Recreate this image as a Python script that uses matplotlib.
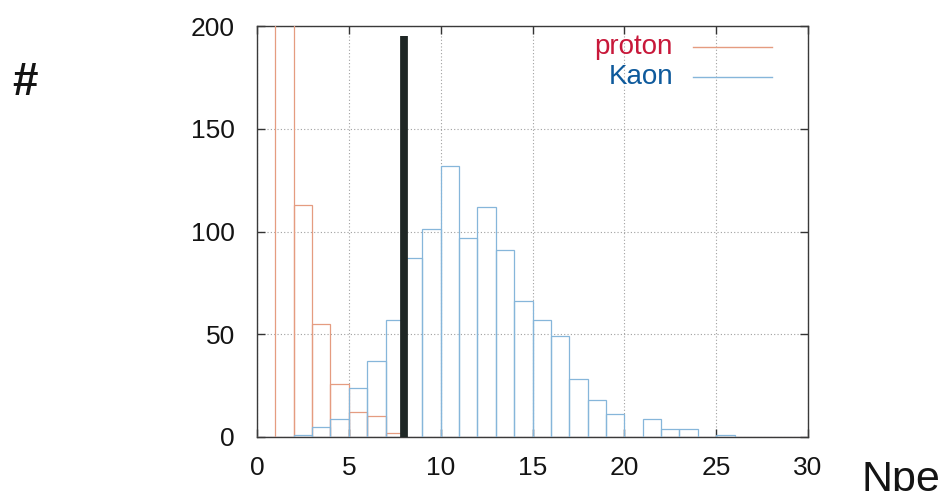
import matplotlib
matplotlib.use("Agg")
import matplotlib.pyplot as plt
from matplotlib.lines import Line2D

# Histogram contents, one entry per unit-wide Npe bin starting at 0
bin_edges = list(range(0, 31))
proton_counts = [0, 420, 113, 55, 26, 12, 10, 2, 0, 0,
                 0, 0, 0, 0, 0, 0, 0, 0, 0, 0,
                 0, 0, 0, 0, 0, 0, 0, 0, 0, 0]
kaon_counts = [0, 0, 1, 5, 9, 24, 37, 57, 87, 101,
               132, 97, 112, 91, 66, 57, 49, 28, 18, 11,
               0, 9, 4, 4, 0, 1, 0, 0, 0, 0]

# Npe cut position and drawn height
cut_npe = 8
cut_height = 195

x_ticks = [0, 5, 10, 15, 20, 25, 30]
y_ticks = [0, 50, 100, 150, 200]
series_labels = ["proton", "Kaon"]

plt.rcParams["font.family"] = ["Liberation Sans", "DejaVu Sans"]

fig = plt.figure(figsize=(9.46, 4.91), dpi=100)
ax = fig.add_axes([257 / 946, 1 - 437 / 491, 551 / 946, 411 / 491])

proton_color = "#e59c80"
kaon_color = "#86b6da"
text_color = "#141414"

left = bin_edges[:-1]
ax.bar(left, proton_counts, width=1, align="edge", fill=False,
       edgecolor=proton_color, linewidth=0.9, zorder=3)
ax.bar(left, kaon_counts, width=1, align="edge", fill=False,
       edgecolor=kaon_color, linewidth=0.9, zorder=3)

ax.plot([cut_npe, cut_npe], [0, cut_height], color="#1f2725",
        linewidth=5.6, solid_capstyle="butt", zorder=4)

ax.set_xlim(0, 30)
ax.set_ylim(0, 200)
ax.set_xticks(x_ticks)
ax.set_yticks(y_ticks)
ax.tick_params(axis="both", direction="in", length=6, width=1,
               color="#333333", labelsize=19, labelcolor=text_color,
               top=True, right=True)
ax.tick_params(axis="x", pad=14)
ax.tick_params(axis="y", pad=16)

ax.grid(True, linestyle=(0, (1, 2)), color="#a0a0a0", linewidth=0.8)
for s in ax.spines.values():
    s.set_color("#3a3a3a")
    s.set_linewidth(1.0)

# Key: right-aligned label followed by a sample line
legend_rows = [(series_labels[0], "#c8183a", proton_color, 0.949),
               (series_labels[1], "#0e5a9c", kaon_color, 0.876)]
for label, tcol, lcol, yf in legend_rows:
    ax.text(0.755, yf, label, transform=ax.transAxes, ha="right",
            va="center", fontsize=20, color=tcol, zorder=5)
    ax.add_line(Line2D([0.791, 0.935], [yf, yf], transform=ax.transAxes,
                       color=lcol, linewidth=1.0, zorder=5))

fig.text(25 / 946, 1 - 83 / 491, "#", fontsize=33, fontweight="bold",
         color=text_color, ha="center", va="center")
fig.text(861 / 946, 1 - 491 / 491, "Npe", fontsize=31, color=text_color,
         ha="left", va="baseline")

fig.savefig("out.png", dpi=100, facecolor="white")
